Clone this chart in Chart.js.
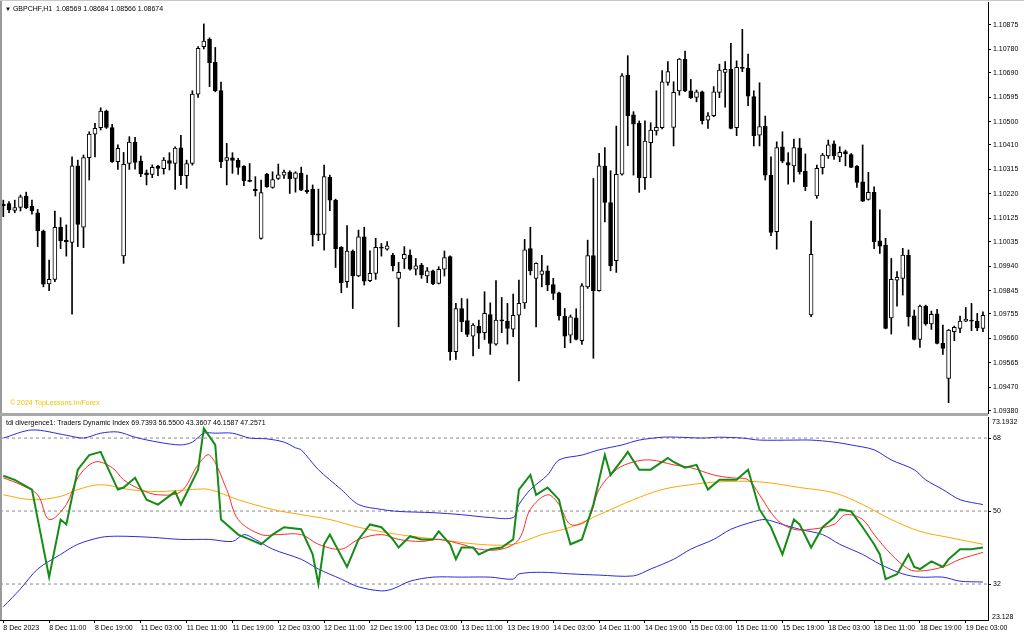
<!DOCTYPE html>
<html>
<head>
<meta charset="utf-8">
<script src="https://cdn.jsdelivr.net/npm/chart.js@4.4.1/dist/chart.umd.min.js"></script>
<style>
  body { margin: 0; background: #fff; width: 1024px; height: 638px; overflow: hidden; position: relative; font-family: 'Liberation Sans', Arial, sans-serif; }
  canvas { position: absolute; left: 0; }
  .txt { position: absolute; font-size: 7px; white-space: pre; color: #000; line-height: 9px; }
  .line { position: absolute; }
</style>
</head>
<body>
<canvas id="priceChart" width="1024" height="414" style="top:0"></canvas>
<canvas id="tdiChart" width="1024" height="230" style="top:408px"></canvas>

<div class="line" style="left:0;top:0;width:2px;height:620px;background:#9a9a9a"></div>
<div class="line" style="left:0;top:0;width:1024px;height:1px;background:#c8c8c8"></div>
<div class="line" style="left:0;top:413px;width:988px;height:3px;background:#a8a8a8"></div>

<div class="txt" style="left:5px;top:4px"><span style="font-size:6px">▼</span> GBPCHF,H1  1.08569 1.08684 1.08566 1.08674</div>
<div class="txt" style="left:10px;top:398px;color:#f2c200">© 2024 TopLessons.In/Forex</div>
<div class="txt" style="left:6px;top:418px">tdi divergence1: Traders Dynamic Index 69.7393 56.5500 43.3607 46.1587 47.2571</div>
<div class="txt" id="tdiMax" style="left:992px;top:417px"></div>
<div class="txt" id="tdiMin" style="left:992px;top:612px"></div>

<script>
// candles (H1)
const opens = [1.10180,1.10183,1.10156,1.10168,1.10212,1.10173,1.10147,1.10076,1.09871,1.09889,1.10091,1.10040,1.10032,1.10329,1.10091,1.10361,1.10452,1.10477,1.10541,1.10477,
  1.10345,1.09980,1.10338,1.10421,1.10347,1.10302,1.10296,1.10328,1.10318,1.10349,1.10338,1.10399,1.10291,1.10338,1.10607,1.10791,1.10819,1.10730,1.10621,1.10350,
  1.10360,1.10350,1.10328,1.10273,1.10238,1.10048,1.10297,1.10245,1.10280,1.10293,1.10305,1.10280,1.10301,1.10235,1.10239,1.10065,1.10063,1.10284,1.10196,1.10013,
  1.09880,1.09999,1.09902,1.10054,1.09884,1.09912,1.10014,1.10006,1.09982,1.09893,1.09968,1.09983,1.09928,1.09944,1.09902,1.09922,1.09873,1.09928,1.09977,1.09609,
  1.09776,1.09729,1.09669,1.09708,1.09682,1.09752,1.09638,1.09729,1.09727,1.09696,1.09750,1.09798,1.10008,1.09893,1.09908,1.09922,1.09869,1.09837,1.09747,1.09673,
  1.09740,1.09651,1.09860,1.09981,1.09845,1.10328,1.10187,1.09961,1.10297,1.10681,1.10527,1.10494,1.10283,1.10419,1.10464,1.10477,1.10652,1.10478,1.10619,1.10742,
  1.10620,1.10594,1.10616,1.10506,1.10523,1.10614,1.10691,1.10703,1.10477,1.10711,1.10707,1.10597,1.10448,1.10483,1.10293,1.10074,1.10403,1.10342,1.10329,1.10399,
  1.10309,1.09751,1.10212,1.10322,1.10367,1.10414,1.10364,1.10384,1.10373,1.10328,1.10267,1.10199,1.10226,1.10038,1.10022,1.09740,1.09886,1.09893,1.09982,1.09748,
  1.09656,1.09785,1.09716,1.09755,1.09641,1.09505,1.09686,1.09699,1.09727,1.09731,1.09727,1.09699];
const highs = [1.10196,1.10190,1.10196,1.10216,1.10227,1.10196,1.10160,1.10080,1.09964,1.10154,1.10128,1.10100,1.10364,1.10351,1.10371,1.10461,1.10494,1.10554,1.10545,1.10490,
  1.10410,1.10381,1.10442,1.10439,1.10367,1.10313,1.10333,1.10331,1.10361,1.10380,1.10403,1.10447,1.10351,1.10620,1.10791,1.10879,1.10825,1.10788,1.10654,1.10416,
  1.10380,1.10358,1.10330,1.10338,1.10287,1.10274,1.10300,1.10306,1.10336,1.10313,1.10310,1.10306,1.10324,1.10293,1.10255,1.10239,1.10332,1.10293,1.10200,1.10016,
  1.10097,1.10003,1.10080,1.10091,1.10000,1.10048,1.10028,1.10035,1.09990,1.09955,1.10016,1.10003,1.09970,1.09951,1.09935,1.09925,1.09938,1.09999,1.09980,1.09796,
  1.09815,1.09813,1.09718,1.09731,1.09841,1.09798,1.09884,1.09819,1.09796,1.09832,1.09886,1.10044,1.10091,1.09953,1.09982,1.09941,1.09893,1.09840,1.09776,1.09751,
  1.09775,1.09873,1.10041,1.10280,1.10377,1.10400,1.10310,1.10483,1.10687,1.10756,1.10539,1.10503,1.10503,1.10496,1.10620,1.10698,1.10733,1.10655,1.10745,1.10774,
  1.10664,1.10623,1.10619,1.10535,1.10636,1.10723,1.10733,1.10804,1.10736,1.10858,1.10762,1.10620,1.10651,1.10522,1.10364,1.10422,1.10461,1.10380,1.10433,1.10435,
  1.10375,1.10115,1.10332,1.10377,1.10429,1.10426,1.10403,1.10390,1.10377,1.10330,1.10410,1.10304,1.10248,1.10158,1.10048,1.09970,1.09919,1.10009,1.10003,1.09770,
  1.09789,1.09789,1.09766,1.09773,1.09712,1.09695,1.09708,1.09747,1.09780,1.09796,1.09757,1.09763];
const lows = [1.10132,1.10147,1.10147,1.10154,1.10163,1.10142,1.10016,1.09860,1.09845,1.09880,1.10008,1.09979,1.09754,1.10016,1.10012,1.10274,1.10364,1.10468,1.10474,1.10342,
  1.10315,1.09951,1.10315,1.10316,1.10287,1.10255,1.10283,1.10291,1.10297,1.10313,1.10238,1.10256,1.10242,1.10332,1.10594,1.10782,1.10636,1.10616,1.10322,1.10255,
  1.10300,1.10296,1.10252,1.10267,1.10212,1.10045,1.10245,1.10242,1.10276,1.10280,1.10222,1.10227,1.10233,1.10222,1.10018,1.10039,1.10002,1.10155,1.09935,1.09837,
  1.09858,1.09776,1.09899,1.09867,1.09880,1.09889,1.09979,1.10002,1.09922,1.09705,1.09931,1.09925,1.09906,1.09893,1.09876,1.09868,1.09871,1.09902,1.09576,1.09579,
  1.09686,1.09667,1.09592,1.09621,1.09656,1.09598,1.09634,1.09682,1.09638,1.09667,1.09495,1.09776,1.09906,1.09705,1.09860,1.09845,1.09811,1.09731,1.09624,1.09643,
  1.09654,1.09637,1.09854,1.09583,1.09843,1.10112,1.09922,1.09916,1.10293,1.10407,1.10293,1.10226,1.10238,1.10283,1.10448,1.10472,1.10642,1.10406,1.10603,1.10616,
  1.10590,1.10577,1.10491,1.10474,1.10519,1.10593,1.10556,1.10472,1.10446,1.10694,1.10562,1.10406,1.10406,1.10274,1.10058,1.10006,1.10341,1.10258,1.10267,1.10297,
  1.10233,1.09744,1.10203,1.10297,1.10358,1.10354,1.10345,1.10329,1.10322,1.10245,1.10190,1.10196,1.10008,1.09990,1.09697,1.09677,1.09785,1.09828,1.09708,1.09654,
  1.09625,1.09711,1.09695,1.09639,1.09598,1.09411,1.09651,1.09682,1.09725,1.09690,1.09690,1.09686];
const closes = [1.10174,1.10158,1.10167,1.10209,1.10167,1.10154,1.10078,1.09870,1.09889,1.10091,1.10039,1.10034,1.10329,1.10102,1.10361,1.10452,1.10474,1.10541,1.10478,1.10345,
  1.10397,1.10335,1.10421,1.10342,1.10298,1.10294,1.10323,1.10319,1.10351,1.10338,1.10398,1.10291,1.10338,1.10607,1.10784,1.10813,1.10729,1.10619,1.10344,1.10361,
  1.10350,1.10323,1.10271,1.10269,1.10233,1.10225,1.10248,1.10276,1.10294,1.10305,1.10279,1.10302,1.10235,1.10229,1.10061,1.10060,1.10287,1.10196,1.10008,1.09876,
  1.09999,1.09902,1.10054,1.09882,1.09912,1.10013,1.10010,1.10019,1.09941,1.09916,1.09986,1.09928,1.09941,1.09906,1.09922,1.09871,1.09928,1.09973,1.09609,1.09776,
  1.09725,1.09676,1.09712,1.09680,1.09757,1.09641,1.09731,1.09728,1.09699,1.09750,1.09796,1.10003,1.09922,1.09951,1.09922,1.09867,1.09834,1.09748,1.09669,1.09744,
  1.09656,1.09864,1.09981,1.09845,1.10329,1.10187,1.09942,1.10296,1.10678,1.10523,1.10490,1.10283,1.10425,1.10468,1.10478,1.10655,1.10694,1.10614,1.10743,1.10619,
  1.10593,1.10616,1.10504,1.10523,1.10616,1.10700,1.10703,1.10474,1.10711,1.10707,1.10599,1.10446,1.10481,1.10293,1.10071,1.10400,1.10347,1.10332,1.10400,1.10306,
  1.10248,1.09986,1.10319,1.10371,1.10410,1.10367,1.10381,1.10375,1.10323,1.10265,1.10192,1.10226,1.10035,1.10018,1.09699,1.09889,1.09897,1.09983,1.09744,1.09656,
  1.09785,1.09716,1.09753,1.09641,1.09621,1.09692,1.09703,1.09727,1.09735,1.09727,1.09701,1.09750];

const priceTickLabels = ['1.10875','1.10780','1.10690','1.10595','1.10500','1.10410','1.10315','1.10220','1.10125',
  '1.10035','1.09940','1.09845','1.09755','1.09660','1.09565','1.09470','1.09380'];

// x axis: one tick every 8 bars
const timeTickBars = [0,8,16,24,32,40,48,56,64,72,80,88,96,104,112,120,128,136,144,152,160,168];
const timeLabels = ['8 Dec 2023','8 Dec 11:00','8 Dec 19:00','11 Dec 03:00','11 Dec 11:00','11 Dec 19:00','12 Dec 03:00',
  '12 Dec 11:00','12 Dec 19:00','13 Dec 03:00','13 Dec 11:00','13 Dec 19:00','14 Dec 03:00','14 Dec 11:00','14 Dec 19:00',
  '15 Dec 03:00','15 Dec 11:00','15 Dec 19:00','18 Dec 03:00','18 Dec 11:00','18 Dec 19:00','19 Dec 03:00'];

// TDI lines (bar index, value)
const greenBars = [0,2,5,8,10,11,13,15,17,18,20,21,23,25,27,30,31,34,35,37,38,41,43,45,47,49,52,54,55,56,57,60,62,64,66,68,69,71,73,75,76,78,79,80,82,83,85,87,89,90,
  92,93,95,97,98,99,101,103,104,105,106,108,109,111,113,116,117,119,121,123,125,128,130,131,132,134,136,138,139,141,143,145,146,148,150,152,153,154,156,158,159,160,162,164,165,167,169,171];
const greenVals = [58.7,57.7,55.3,33.7,47.9,46.7,60.2,63.8,64.6,61.4,55.3,55.8,58.2,52.8,51.6,54.8,51.6,60.2,70.4,66.3,47.9,44.2,43.0,41.8,44.2,46.0,45.5,39.3,32.0,41.8,44.2,36.2,43.0,46.7,46.0,43.0,41.0,43.8,43.0,43.0,45.0,41.8,38.1,41.0,41.0,39.3,40.6,41.0,43.0,55.3,
  58.9,54.0,55.8,52.8,46.7,41.8,43.0,51.6,57.7,63.8,58.9,62.6,64.6,60.2,60.2,63.1,62.1,60.7,61.4,55.3,57.7,57.7,60.2,55.3,50.4,46.0,39.3,47.9,46.7,41.0,46.0,48.4,50.4,49.9,46.0,41.8,39.3,33.2,34.4,39.3,36.2,35.7,37.6,36.2,38.1,40.6,40.6,41.0];

const redBars = [0,3,6,8,11,13,16,19,21,24,27,31,34,36,39,41,45,48,52,55,59,62,66,69,73,76,80,83,87,90,92,95,97,99,102,104,107,110,113,117,120,124,127,130,132,135,138,141,145,147,150,152,155,158,160,164,167,171];
const redVals = [58.2,56.5,54.0,47.9,51.6,58.2,62.1,60.7,57.7,55.3,54.0,54.8,61.4,63.8,55.3,47.9,44.2,44.2,44.2,41.8,40.6,43.0,44.2,43.0,42.5,43.0,41.8,40.6,40.6,43.0,50.4,54.0,51.6,46.7,47.9,55.3,60.2,62.1,62.6,61.4,60.7,58.9,58.2,57.7,54.0,47.9,45.5,45.5,46.7,49.1,47.9,44.2,39.3,35.7,35.2,36.2,38.1,39.8];

const orangeBars = [0,5,10,13,17,22,27,33,36,41,47,52,57,62,69,76,83,89,94,99,104,110,115,120,125,132,139,145,150,155,160,165,171];
const orangeVals = [54.0,52.8,53.6,55.3,56.5,55.3,54.8,55.3,55.3,52.8,50.4,49.1,47.9,46.0,44.2,43.0,41.8,41.8,44.2,46.0,49.1,52.8,55.3,56.5,57.2,57.2,55.8,54.5,51.6,47.9,45.0,43.5,41.8];

const upperBars = [0,5,11,14,17,20,23,27,31,33,35,37,40,43,46,49,51,52,55,59,62,66,69,75,80,85,89,90,92,95,97,101,104,108,111,115,118,122,125,129,132,138,141,145,148,152,155,159,161,164,167,171];
const upperVals = [68.0,70.0,68.7,68.0,69.2,69.5,68.2,67.0,66.3,67.0,69.2,69.2,69.2,68.0,67.8,67.0,65.6,65.1,60.2,55.3,51.6,50.4,49.9,49.6,49.1,48.4,48.4,51.6,55.3,58.9,62.6,63.8,65.1,66.3,67.5,68.2,68.2,68.0,68.2,68.0,67.5,67.5,67.5,67.0,66.3,65.1,62.6,60.2,57.7,55.3,52.8,51.6];

const lowerBars = [0,3,6,10,13,17,20,26,31,36,40,42,44,47,52,55,59,62,66,68,71,75,80,85,89,90,94,99,104,110,113,117,120,124,127,131,133,136,139,143,146,150,153,157,160,164,167,171];
const lowerVals = [26.4,30.8,35.7,39.3,41.8,43.5,43.8,43.5,43.0,43.0,42.5,44.2,43.0,40.6,38.1,35.7,33.2,31.3,30.3,30.8,32.7,33.7,33.7,33.7,33.2,34.5,34.9,34.5,34.2,34.0,35.7,38.1,40.6,43.0,45.5,47.4,47.9,46.7,45.5,44.2,41.8,39.3,36.9,34.5,33.7,33.7,32.7,32.5];

const levels = [68, 50, 32];
const tdiMax = 73.1932, tdiMin = 23.128;

const X_MIN = -0.576, X_MAX = 171.88;

Chart.defaults.font.family = "'Liberation Sans', Arial, sans-serif";
Chart.defaults.font.size = 7;
Chart.defaults.color = '#000';

document.getElementById('tdiMax').textContent = String(tdiMax);
document.getElementById('tdiMin').textContent = String(tdiMin);

const pts = (bars, vals) => bars.map((b, i) => ({ x: b, y: vals[i] }));

const bullBodies = [], bearBodies = [];
opens.forEach((o, i) => {
  const c = closes[i];
  if (c >= o) bullBodies.push({ x: i, y: [o, c] });
  else bearBodies.push({ x: i, y: [c, o] });
});
const wicks = lows.map((l, i) => ({ x: i, y: [l, highs[i]] }));

new Chart(document.getElementById('priceChart'), {
  type: 'bar',
  data: {
    datasets: [
      { data: bullBodies, backgroundColor: '#fff', borderColor: '#000', borderWidth: 1, borderSkipped: false,
        barThickness: 4, minBarLength: 1, grouped: false, order: 0 },
      { data: bearBodies, backgroundColor: '#000', borderColor: '#000', borderWidth: 1, borderSkipped: false,
        barThickness: 4, minBarLength: 1, grouped: false, order: 0 },
      { data: wicks, backgroundColor: '#000', borderWidth: 0, barThickness: 1, grouped: false, order: 1 }
    ]
  },
  options: {
    responsive: false,
    animation: false,
    layout: { padding: { top: 2, bottom: 1, left: 0, right: 0 } },
    plugins: { legend: { display: false }, tooltip: { enabled: false } },
    scales: {
      x: { type: 'linear', min: X_MIN, max: X_MAX, offset: false, display: false },
      y: {
        position: 'right', min: 1.09371, max: 1.10964,
        afterBuildTicks: s => { s.ticks = priceTickLabels.map(t => ({ value: parseFloat(t) })); },
        afterFit: s => { s.width = 36; s.paddingTop = 0; s.paddingBottom = 0; },
        ticks: { autoSkip: false, padding: 2, callback: v => v.toFixed(5) },
        grid: { drawOnChartArea: false, tickLength: 3, color: '#000' },
        border: { color: '#000', width: 1 }
      }
    }
  }
});

new Chart(document.getElementById('tdiChart'), {
  type: 'line',
  data: {
    datasets: [
      { data: pts(greenBars, greenVals), borderColor: '#168c16', borderWidth: 2, tension: 0, order: 0 },
      { data: pts(redBars, redVals), borderColor: '#ff2a2a', borderWidth: 1, tension: 0.35, order: 1 },
      { data: pts(orangeBars, orangeVals), borderColor: '#ffa500', borderWidth: 1, tension: 0.35, order: 2 },
      { data: pts(upperBars, upperVals), borderColor: '#2b2bdc', borderWidth: 1, tension: 0.3, order: 3 },
      { data: pts(lowerBars, lowerVals), borderColor: '#2b2bdc', borderWidth: 1, tension: 0.3, order: 3 },
      ...levels.map(l => ({ data: [{ x: X_MIN, y: l }, { x: X_MAX, y: l }], borderColor: '#8a8a8a',
        borderWidth: 1, borderDash: [3, 3], order: 5 }))
    ]
  },
  options: {
    responsive: false,
    animation: false,
    elements: { point: { radius: 0 } },
    layout: { padding: { top: 9, bottom: 0, left: 0, right: 0 } },
    plugins: { legend: { display: false }, tooltip: { enabled: false } },
    scales: {
      x: {
        type: 'linear', min: X_MIN, max: X_MAX, offset: false, position: 'bottom',
        afterBuildTicks: s => { s.ticks = timeTickBars.map(v => ({ value: v })); },
        afterFit: s => { s.height = 18; s.paddingLeft = 0; s.paddingRight = 0; },
        ticks: { autoSkip: false, maxRotation: 0, align: 'start', padding: 1,
          callback: v => timeLabels[timeTickBars.indexOf(v)] },
        grid: { drawOnChartArea: false, tickLength: 3, color: '#000' },
        border: { color: '#000', width: 1 }
      },
      y: {
        position: 'right', min: tdiMin, max: tdiMax,
        afterBuildTicks: s => { s.ticks = levels.map(v => ({ value: v })); },
        afterFit: s => { s.width = 36; s.paddingTop = 0; s.paddingBottom = 0; },
        ticks: { autoSkip: false, padding: 2, callback: v => String(v) },
        grid: { drawOnChartArea: false, tickLength: 3, color: '#000' },
        border: { color: '#000', width: 1 }
      }
    }
  }
});
</script>
</body>
</html>
